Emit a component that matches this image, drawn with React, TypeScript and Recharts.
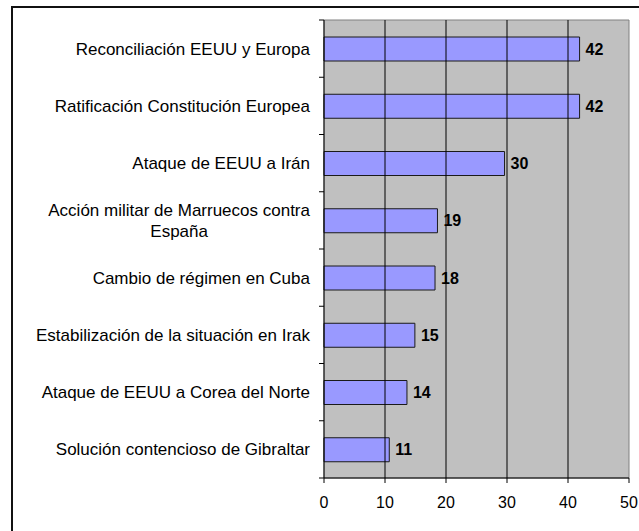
import React from 'react';
import {
  BarChart,
  Bar,
  XAxis,
  YAxis,
  LabelList,
  ReferenceArea,
  ReferenceLine
} from 'recharts';

const categories = [
  'Reconciliación EEUU y Europa',
  'Ratificación Constitución Europea',
  'Ataque de EEUU a Irán',
  'Acción militar de Marruecos contra\nEspaña',
  'Cambio de régimen en Cuba',
  'Estabilización de la situación en Irak',
  'Ataque de EEUU a Corea del Norte',
  'Solución contencioso de Gibraltar'
];

const values = [41.9, 41.9, 29.6, 18.6, 18.2, 14.9, 13.6, 10.7];

const xTicks = [0, 10, 20, 30, 40, 50];
const gridValues = [10, 20, 30, 40];

const data = categories.map((name, i) => ({ name, value: values[i] }));

const FONT = '"Liberation Sans", Arial, sans-serif';
const LABEL_SIZE = 17;

let ctx: CanvasRenderingContext2D | null = null;
const measure = (text: string) => {
  if (!ctx && typeof document !== 'undefined') {
    ctx = document.createElement('canvas').getContext('2d');
  }
  if (!ctx) return text.length * 8;
  ctx.font = `${LABEL_SIZE}px ${FONT}`;
  return ctx.measureText(text).width;
};

// category label, plus the small tick marks that sit between categories
const CategoryTick = (props: any) => {
  const { x, y, payload, index, visibleTicksCount } = props;
  const half = payload.offset || 0;
  const lines = String(payload.value).split('\n');
  const maxW = Math.max(...lines.map(measure));
  const center = x - 14 - maxW / 2;
  const lineH = 21;
  return (
    <g>
      <line x1={x - 5} x2={x} y1={y - half} y2={y - half} stroke="#000" strokeWidth={1} />
      {index === visibleTicksCount - 1 && (
        <line x1={x - 5} x2={x} y1={y + half} y2={y + half} stroke="#000" strokeWidth={1} />
      )}
      {lines.map((line, i) => (
        <text
          key={i}
          x={center}
          y={y + (i - (lines.length - 1) / 2) * lineH}
          dy="0.35em"
          textAnchor="middle"
          fontSize={LABEL_SIZE}
          fontFamily={FONT}
          fill="#000"
        >
          {line}
        </text>
      ))}
    </g>
  );
};

export default function App() {
  return (
    <div
      style={{
        position: 'fixed',
        left: 0,
        top: 0,
        width: 639,
        height: 531,
        overflow: 'hidden',
        background: '#fff'
      }}
    >
      <div
        style={{
          position: 'absolute',
          left: 11,
          top: 6,
          width: 660,
          height: 560,
          border: '2px solid #111',
          boxSizing: 'border-box'
        }}
      />
      <div style={{ position: 'absolute', left: 0, top: 0 }}>
        <BarChart
          width={639}
          height={531}
          data={data}
          layout="vertical"
          margin={{ top: 20, right: 10, bottom: 13, left: 0 }}
          barCategoryGap={0}
        >
          <XAxis
            type="number"
            domain={[0, 50]}
            ticks={xTicks}
            height={40}
            tickSize={5}
            tickMargin={14}
            axisLine={{ stroke: '#000' }}
            tickLine={{ stroke: '#000' }}
            tick={{ fontSize: 16, fill: '#000', fontFamily: FONT }}
          />
          <YAxis
            type="category"
            dataKey="name"
            width={324}
            tickSize={0}
            tickMargin={0}
            tickLine={false}
            axisLine={{ stroke: '#000' }}
            interval={0}
            tick={<CategoryTick />}
          />
          <ReferenceArea
            x1={0}
            x2={50}
            fill="#c0c0c0"
            fillOpacity={1}
            stroke="#808080"
            strokeWidth={1}
          />
          {gridValues.map((v) => (
            <ReferenceLine key={v} x={v} stroke="#000" strokeWidth={1} />
          ))}
          <Bar
            dataKey="value"
            fill="#9999ff"
            stroke="#1a1a1a"
            strokeWidth={1}
            barSize={24}
            isAnimationActive={false}
          >
            <LabelList
              dataKey="value"
              position="right"
              offset={6}
              formatter={(v: any) => Math.round(Number(v))}
              style={{ fontSize: 16, fontWeight: 'bold', fill: '#000', fontFamily: FONT }}
            />
          </Bar>
        </BarChart>
      </div>
    </div>
  );
}
